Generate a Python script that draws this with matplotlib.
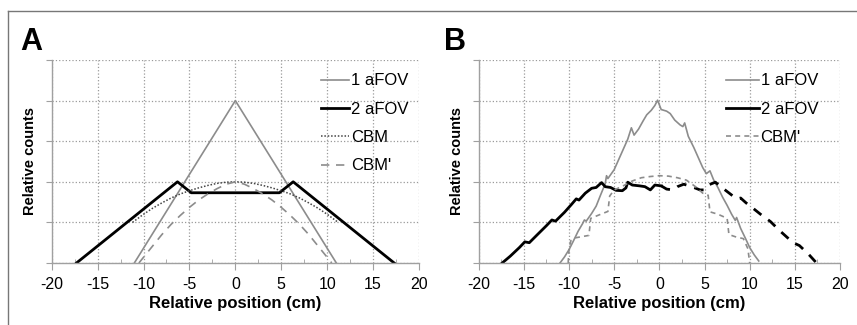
import matplotlib.pyplot as plt
from matplotlib.lines import Line2D

plt.rcParams['font.family'] = ['Liberation Sans', 'DejaVu Sans']
plt.rcParams['axes.unicode_minus'] = False

# ---- panel A (simulated profiles) ----
a_fov1_x = [-11.0, 0.0, 11.0]
a_fov1_y = [0.0, 4.0, 0.0]

a_fov2_x = [-17.3, -6.3, -4.8, 4.8, 6.3, 17.3]
a_fov2_y = [0.0, 2.0, 1.73, 1.73, 2.0, 0.0]

a_cbm_x = [-11.2, -10, -9, -8, -7, -6, -5, -4, -3, -2, -1, 0,
           1, 2, 3, 4, 5, 6, 7, 8, 9, 10, 11.2]
a_cbm_y = [1.0, 1.2, 1.35, 1.48, 1.60, 1.70, 1.78, 1.85, 1.91, 1.96, 1.99, 2.0,
           1.99, 1.96, 1.91, 1.85, 1.78, 1.70, 1.60, 1.48, 1.35, 1.2, 1.0]

a_cbmp_x = [-10.5, -9, -8, -7, -6, -5, -4, -3, -2, -1, 0,
            1, 2, 3, 4, 5, 6, 7, 8, 9, 10.5]
a_cbmp_y = [0.0, 0.42, 0.70, 0.95, 1.17, 1.37, 1.55, 1.70, 1.83, 1.94, 2.0,
            1.94, 1.83, 1.70, 1.55, 1.37, 1.17, 0.95, 0.70, 0.42, 0.0]

# ---- panel B (measured profiles) ----
b_fov1_x = [-11.0, -10.5, -10.0, -9.5, -9.0, -8.5, -8.3, -8.1, -7.5, -7.0, -6.5, -6.0,
            -5.85, -5.7, -5.0, -4.5, -4.0, -3.5, -3.1, -2.8, -2.3, -1.8, -1.4, -0.9,
            -0.5, -0.2, 0.2, 0.8, 1.2, 1.7, 2.3, 2.6, 2.8, 3.2, 3.8, 4.3, 4.8, 5.2,
            5.6, 6.0, 6.5, 7.0, 7.5, 8.0, 8.4, 8.55, 9.0, 9.5, 10.0, 10.5, 11.0]
b_fov1_y = [0.0, 0.15, 0.33, 0.55, 0.78, 0.97, 1.06, 1.03, 1.22, 1.40, 1.68, 1.95,
            2.15, 2.08, 2.30, 2.55, 2.80, 3.05, 3.33, 3.15, 3.30, 3.50, 3.65, 3.76,
            3.88, 4.01, 3.78, 3.74, 3.68, 3.52, 3.40, 3.36, 3.45, 3.12, 2.85, 2.60,
            2.35, 2.20, 2.27, 2.05, 1.85, 1.62, 1.42, 1.20, 1.05, 1.12, 0.85, 0.62,
            0.38, 0.20, 0.05]

b_fov2_x = [-17.4, -16.5, -15.5, -14.9, -14.4, -13.5, -12.5, -11.9, -11.5, -10.5,
            -9.7, -9.2, -8.9, -8.2, -7.5, -7.0, -6.4, -6.0, -5.4, -4.8, -4.1, -3.7,
            -3.5, -3.0, -2.2, -1.6, -1.0, -0.5, 0.2]
b_fov2_y = [0.0, 0.17, 0.38, 0.52, 0.50, 0.70, 0.92, 1.06, 1.03, 1.25,
            1.45, 1.58, 1.55, 1.72, 1.84, 1.86, 1.98, 1.88, 1.86, 1.79, 1.78, 1.85,
            1.99, 1.92, 1.90, 1.88, 1.80, 1.92, 1.90]

b_fov2m_x = [0.2, 0.8, 1.5, 2.0, 2.7, 3.3, 3.8, 4.5, 4.9, 5.4, 6.2, 6.8, 7.5, 8.2,
             8.6, 9.0, 9.6, 10.3, 11.2, 12.3, 13.3, 14.4, 15.0, 15.5, 16.5, 17.4]
b_fov2m_y = [1.90, 1.82, 1.80, 1.88, 1.94, 1.90, 1.86, 1.80, 1.80, 1.92, 1.99, 1.88,
             1.76, 1.64, 1.58, 1.60, 1.48, 1.36, 1.20, 1.02, 0.80, 0.58, 0.48, 0.43,
             0.22, 0.0]

b_cbmp_x = [-10.1, -10.0, -9.8, -9.3, -7.8, -7.6, -6.5, -5.7, -5.5, -5.0, -4.0, -3.0,
            -2.0, -1.0, 0.0, 1.0, 2.0, 3.0, 4.0, 4.8, 5.4, 5.6, 6.5, 7.5, 7.7, 8.5,
            9.3, 9.8, 10.0]
b_cbmp_y = [0.0, 0.35, 0.55, 0.62, 0.68, 1.10, 1.20, 1.27, 1.65, 1.80, 1.90, 2.02,
            2.10, 2.13, 2.15, 2.14, 2.10, 2.04, 1.88, 1.72, 1.67, 1.26, 1.20, 1.10,
            0.70, 0.64, 0.60, 0.35, 0.0]

xticks = [-20, -15, -10, -5, 0, 5, 10, 15, 20]
grey = '#8c8c8c'


def style_axes(ax, letter, letter_x):
    ax.set_xlim(-20, 20)
    ax.set_ylim(0, 5)
    ax.set_xticks(xticks)
    ax.set_xticks([-17.5, -12.5, -7.5, -2.5, 2.5, 7.5, 12.5, 17.5], minor=True)
    ax.set_yticks([0, 1, 2, 3, 4, 5])
    ax.set_yticklabels([])
    ax.grid(True, which='major', linestyle=':', color='#9a9a9a', linewidth=0.9)
    for side in ['top', 'right']:
        ax.spines[side].set_visible(False)
    for side in ['left', 'bottom']:
        ax.spines[side].set_color('#a0a0a0')
        ax.spines[side].set_linewidth(1.0)
    ax.tick_params(axis='x', which='major', direction='out', length=5, color='#a0a0a0',
                   labelsize=11.5, pad=5)
    ax.tick_params(axis='x', which='minor', direction='in', length=3, color='#a0a0a0')
    ax.tick_params(axis='y', direction='out', length=4, color='#a0a0a0')
    ax.set_xlabel('Relative position (cm)', fontsize=12, fontweight='bold', labelpad=3)
    ax.set_ylabel('Relative counts', fontsize=10.5, fontweight='bold', labelpad=3)
    ax.text(letter_x, 1.05, letter, transform=ax.transAxes, fontsize=22,
            fontweight='bold', va='baseline', ha='left')


fig = plt.figure(figsize=(8.57, 3.25), dpi=100)
axA = fig.add_axes([0.0603, 0.1908, 0.4286, 0.6246])
axB = fig.add_axes([0.5586, 0.1908, 0.4216, 0.6246])

# panel A
axA.plot(a_fov1_x, a_fov1_y, color=grey, linewidth=1.2, label='1 aFOV')
axA.plot(a_fov2_x, a_fov2_y, color='black', linewidth=2.0, label='2 aFOV')
axA.plot(a_cbm_x, a_cbm_y, color='#444444', linewidth=1.1, linestyle=(0, (1, 1.2)), label='CBM')
axA.plot(a_cbmp_x, a_cbmp_y, color=grey, linewidth=1.2, linestyle=(0, (5, 4)), label="CBM'")
style_axes(axA, 'A', -0.085)
axA.legend(loc='upper left', bbox_to_anchor=(0.71, 0.975), frameon=False, fontsize=12,
           handlelength=1.7, handletextpad=0.1, labelspacing=0.8, borderpad=0)

# panel B
axB.plot(b_fov1_x, b_fov1_y, color=grey, linewidth=1.2, label='1 aFOV')
axB.plot(b_fov2_x, b_fov2_y, color='black', linewidth=2.0, label='2 aFOV')
axB.plot(b_fov2m_x, b_fov2m_y, color='black', linewidth=2.0, linestyle=(0, (3.5, 3)))
axB.plot(b_cbmp_x, b_cbmp_y, color=grey, linewidth=1.2, linestyle=(0, (3, 2.5)), label="CBM'")
style_axes(axB, 'B', -0.095)
axB.legend(loc='upper left', bbox_to_anchor=(0.66, 0.975), frameon=False, fontsize=12,
           handlelength=2.0, handletextpad=0.1, labelspacing=0.8, borderpad=0)

# outer frame of the figure
fig.add_artist(Line2D([8 / 857, 1.0], [1 - 11 / 325, 1 - 11 / 325], color='#777777', linewidth=1.0))
fig.add_artist(Line2D([8 / 857, 8 / 857], [0.0, 1 - 11 / 325], color='#777777', linewidth=1.0))

fig.savefig('out.png', dpi=100)
